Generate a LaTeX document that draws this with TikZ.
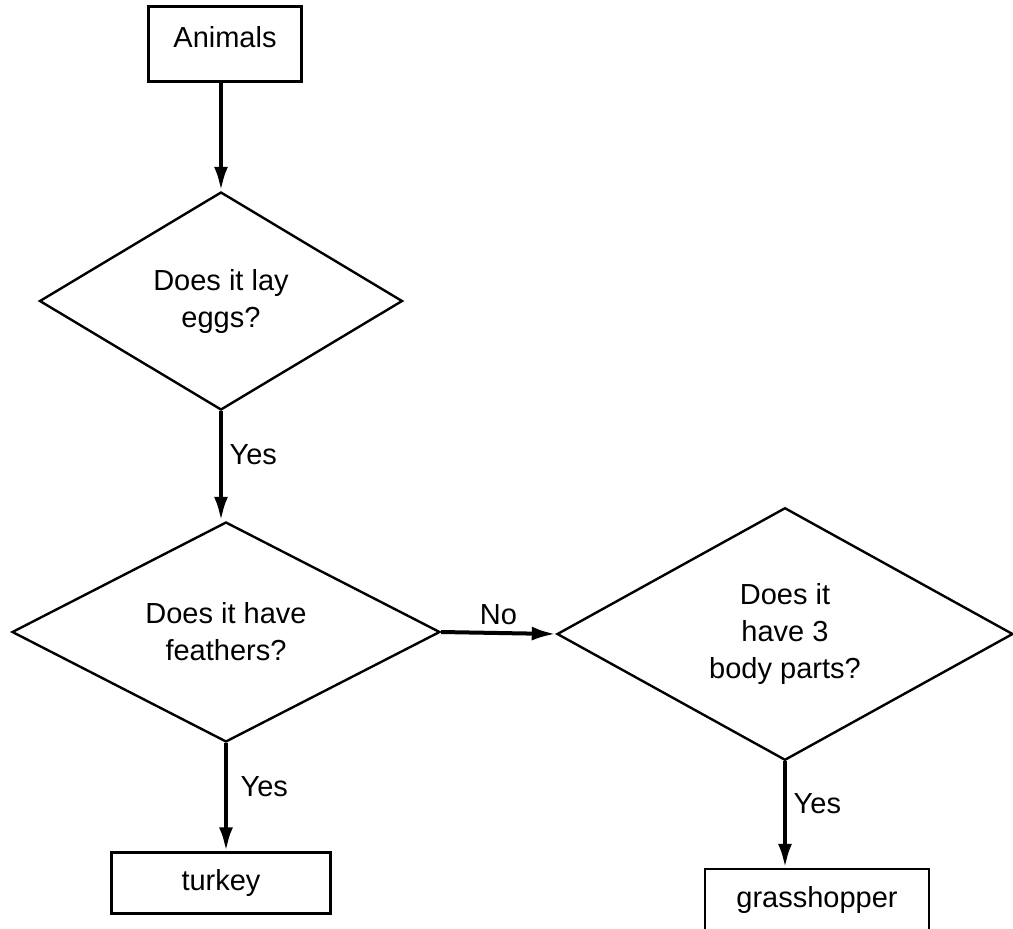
\documentclass[tikz,border=0pt]{standalone}
\usepackage{fontspec}
\setmainfont{Liberation Sans}
\usetikzlibrary{arrows.meta,shapes.geometric}

\begin{document}
\begin{tikzpicture}[x=0.5pt, y=-0.5pt,
    font=\fontsize{14.5}{18.5}\selectfont,
    question/.style={diamond, draw, line width=1.2pt, inner sep=0pt, align=center},
    answer/.style={rectangle, draw, line width=1.2pt, inner sep=0pt},
    link/.style={-{Latex[length=12pt,width=7pt]}, line width=2pt}]
    \useasboundingbox (0,0) rectangle (1013,928);
    \node[answer, minimum width=76.5pt, minimum height=37.5pt, text depth=7pt] (animals) at (225,44) {Animals};
    \node[question, minimum width=181.5pt, minimum height=109pt] (eggs) at (221,301) {Does it lay\\eggs?};
    \node[question, minimum width=214pt, minimum height=110pt] (feathers) at (226,632) {Does it have\\feathers?};
    \node[question, minimum width=228pt, minimum height=120pt] (parts) at (785,634) {Does it\\have 3\\body parts?};
    \node[answer, minimum width=109.5pt, minimum height=30.5pt] (turkey) at (221,883) {turkey};
    \node[answer, minimum width=112pt, minimum height=31pt] (grasshopper) at (817,900) {grasshopper};
    \draw[link] (animals.south -| eggs.north) -- (eggs.north);
    \draw[link] (eggs.south) -- node[pos=0.4, right] (yes1) {Yes} (eggs.south |- feathers.north);
    \draw[link] (feathers.east) -- node[above] (no) {No} (parts.west);
    \draw[link] (feathers.south) -- node[pos=0.4, right, xshift=3pt] (yes2) {Yes} (feathers.south |- turkey.north);
    \draw[link] (parts.south) -- node[pos=0.4, right] (yes3) {Yes} (parts.south |- grasshopper.north);
\end{tikzpicture}
\end{document}
